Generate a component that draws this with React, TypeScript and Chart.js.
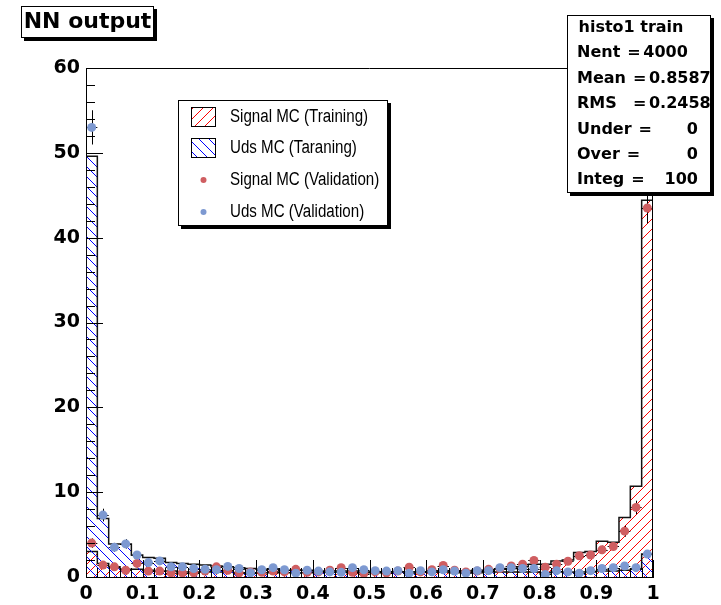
import React, { useEffect, useRef } from 'react';
import { Chart, registerables } from 'chart.js';

Chart.register(...registerables);

// Histogram range: 50 bins over [0, 1]
const BIN_LOW = 0;
const BIN_HIGH = 1;

// Training histograms (percent per bin)
const signalTrain = [
  3.0, 1.6, 1.2, 0.9, 0.9, 0.8, 0.7, 0.7, 0.6, 0.6,
  0.6, 0.6, 0.6, 0.5, 0.5, 0.5, 0.5, 0.5, 0.5, 0.5,
  0.5, 0.6, 0.6, 0.5, 0.5, 0.5, 0.5, 0.6, 0.6, 0.6,
  0.6, 0.7, 0.7, 0.7, 0.8, 0.8, 0.9, 1.0, 1.2, 1.5,
  1.5, 1.9, 2.0, 2.9, 3.0, 4.2, 4.1, 7.0, 10.7, 44.4,
];
const udsTrain = [
  49.6, 6.9, 3.9, 3.9, 2.6, 2.3, 2.2, 1.7, 1.6, 1.5,
  1.4, 1.3, 1.2, 1.1, 1.0, 0.9, 0.9, 0.8, 0.8, 0.8,
  0.7, 0.7, 0.7, 0.7, 0.6, 0.6, 0.6, 0.6, 0.6, 0.6,
  0.6, 0.6, 0.5, 0.5, 0.5, 0.6, 0.6, 0.6, 0.6, 0.6,
  0.5, 0.6, 0.6, 0.6, 0.6, 0.7, 0.7, 0.8, 0.9, 2.7,
];

// Validation samples (percent per bin)
const signalVal = [
  4.0, 1.4, 1.2, 0.8, 1.6, 0.7, 0.7, 0.5, 0.5, 0.5,
  0.7, 1.2, 0.8, 0.5, 0.6, 0.55, 0.7, 0.6, 0.9, 0.55,
  0.6, 0.8, 1.1, 0.55, 0.4, 0.6, 0.5, 0.7, 1.15, 0.6,
  0.85, 1.35, 0.8, 0.6, 0.7, 0.9, 1.0, 1.3, 1.5, 1.95,
  1.15, 1.5, 1.85, 2.5, 2.6, 3.2, 3.6, 5.4, 8.2, 43.5,
];
const udsVal = [
  53.0, 7.3, 3.5, 3.9, 2.6, 1.7, 1.9, 1.2, 1.2, 1.0,
  0.9, 0.85, 1.25, 1.0, 0.5, 0.85, 1.1, 0.85, 0.45, 0.8,
  0.7, 0.6, 0.55, 1.1, 0.85, 0.75, 0.7, 0.75, 0.45, 0.75,
  0.6, 0.85, 0.7, 0.45, 0.75, 0.75, 1.1, 1.1, 1.0, 1.0,
  0.3, 0.75, 0.6, 0.45, 0.75, 1.0, 1.1, 1.3, 1.1, 2.7,
];
// Entries in each validation sample, used for Poisson error bars
const VAL_ENTRIES = 1300;

const Y_MIN = 0;
const Y_MAX = 60;
const Y_STEP = 10;
const X_STEP = 0.1;

const titleText = 'NN output';
const legendLabels = [
  'Signal MC (Training)',
  'Uds MC (Taraning)',
  'Signal MC (Validation)',
  'Uds MC (Validation)',
];
const statsTitle = 'histo1 train';
const statsLabels = ['Nent', 'Mean', 'RMS', 'Under', 'Over', 'Integ'];
const statsValues = ['4000', '0.8587', '0.2458', '0', '0', '100'];

const RED_MARK = 'rgb(207,94,97)';
const BLUE_MARK = 'rgb(125,153,209)';
const BOLD_FAMILY = '"DejaVu Sans", sans-serif';
const SANS_FAMILY = '"Liberation Sans", Arial, sans-serif';

const binWidth = (BIN_HIGH - BIN_LOW) / signalTrain.length;

function histPoints(values: number[]) {
  const pts = [{ x: BIN_LOW, y: 0 }];
  values.forEach((v, i) => pts.push({ x: BIN_LOW + i * binWidth, y: v }));
  pts.push({ x: BIN_HIGH, y: 0 });
  return pts;
}

function markerPoints(values: number[]) {
  return values.map((v, i) => ({ x: BIN_LOW + (i + 0.5) * binWidth, y: v }));
}

function poissonErrors(values: number[]) {
  return values.map((v) => (100 * Math.sqrt((v / 100) * VAL_ENTRIES)) / VAL_ENTRIES);
}

// Crisp one-pixel diagonal hatch tile ('/' when forward, '\' otherwise)
function makeHatch(ctx: CanvasRenderingContext2D, color: string, forward: boolean) {
  const s = 10;
  const c = document.createElement('canvas');
  c.width = s;
  c.height = s;
  const g = c.getContext('2d')!;
  g.fillStyle = color;
  for (let i = 0; i < s; i++) {
    if (forward) g.fillRect((i + 1) % s, s - 1 - i, 1, 1);
    else g.fillRect(i, i, 1, 1);
  }
  return ctx.createPattern(c, 'repeat')!;
}

function drawText(
  ctx: CanvasRenderingContext2D,
  s: string,
  x: number,
  y: number,
  font: string,
  align: CanvasTextAlign = 'left',
  sx = 1,
) {
  ctx.save();
  ctx.font = font;
  ctx.fillStyle = '#000';
  ctx.textBaseline = 'middle';
  ctx.textAlign = align;
  ctx.translate(x, y);
  ctx.scale(sx, 1);
  ctx.fillText(s, 0, 0);
  ctx.restore();
}

function textWidth(ctx: CanvasRenderingContext2D, s: string, font: string) {
  ctx.save();
  ctx.font = font;
  const w = ctx.measureText(s).width;
  ctx.restore();
  return w;
}

function drawPave(ctx: CanvasRenderingContext2D, x: number, y: number, w: number, h: number) {
  ctx.save();
  ctx.fillStyle = '#000';
  ctx.fillRect(x + 3, y + 3, w, h);
  ctx.fillStyle = '#fff';
  ctx.fillRect(x, y, w, h);
  ctx.strokeStyle = '#000';
  ctx.lineWidth = 1;
  ctx.strokeRect(x + 0.5, y + 0.5, w - 1, h - 1);
  ctx.restore();
}

export default function App() {
  const ref = useRef<HTMLCanvasElement | null>(null);

  useEffect(() => {
    const canvas = ref.current!;
    const ctx0 = canvas.getContext('2d')!;
    const redHatch = makeHatch(ctx0, '#ff0000', true);
    const blueHatch = makeHatch(ctx0, '#0000ff', false);
    const signalErr = poissonErrors(signalVal);
    const udsErr = poissonErrors(udsVal);

    // Error bars are drawn just before their marker dataset
    const errorBars = {
      id: 'errorBars',
      beforeDatasetDraw(chart: any, args: any) {
        const errs = args.index === 0 ? udsErr : args.index === 1 ? signalErr : null;
        if (!errs) return;
        const ctx = chart.ctx;
        const xs = chart.scales.x;
        const ys = chart.scales.y;
        const pts = chart.data.datasets[args.index].data;
        ctx.save();
        ctx.strokeStyle = '#000';
        ctx.lineWidth = 1;
        ctx.beginPath();
        pts.forEach((p: any, i: number) => {
          const px = Math.round(xs.getPixelForValue(p.x)) + 0.5;
          const py = Math.round(ys.getPixelForValue(p.y)) + 0.5;
          ctx.moveTo(px, ys.getPixelForValue(p.y + errs[i]));
          ctx.lineTo(px, ys.getPixelForValue(Math.max(0, p.y - errs[i])));
          ctx.moveTo(xs.getPixelForValue(p.x - binWidth / 2), py);
          ctx.lineTo(xs.getPixelForValue(p.x + binWidth / 2), py);
        });
        ctx.stroke();
        ctx.restore();
      },
    };

    // Frame, inward tick marks, title, legend and statistics panes
    const decorations = {
      id: 'decorations',
      afterDatasetsDraw(chart: any) {
        const ctx = chart.ctx;
        const { left, right, top, bottom } = chart.chartArea;
        const xs = chart.scales.x;
        const ys = chart.scales.y;
        ctx.save();
        ctx.strokeStyle = '#000';
        ctx.lineWidth = 1;
        ctx.beginPath();
        ctx.moveTo(left, top + 0.5);
        ctx.lineTo(right, top + 0.5);
        ctx.moveTo(right - 0.5, top);
        ctx.lineTo(right - 0.5, bottom);
        const yMinor = Y_STEP / 5;
        for (let k = 0; k <= (Y_MAX - Y_MIN) / yMinor; k++) {
          const v = Y_MIN + k * yMinor;
          const py = Math.round(ys.getPixelForValue(v)) + 0.5;
          const len = k % 5 === 0 ? 17 : 9;
          ctx.moveTo(left, py);
          ctx.lineTo(left + len, py);
        }
        const xMinor = X_STEP / 5;
        for (let k = 0; k <= Math.round((BIN_HIGH - BIN_LOW) / xMinor); k++) {
          const v = BIN_LOW + k * xMinor;
          const px = Math.round(xs.getPixelForValue(v)) + 0.5;
          const len = k % 5 === 0 ? 17 : 9;
          ctx.moveTo(px, bottom);
          ctx.lineTo(px, bottom - len);
        }
        ctx.stroke();
        ctx.restore();
      },
      afterDraw(chart: any) {
        const ctx = chart.ctx;
        // Title pave
        drawPave(ctx, 21, 6, 133, 32);
        drawText(ctx, titleText, 87.5, 22.5, `bold 22px ${BOLD_FAMILY}`, 'center');

        // Legend
        const lx = 178;
        const ly = 100;
        drawPave(ctx, lx, ly, 210, 126);
        const rowY = [117, 148, 180, 212];
        const legendFont = `18px ${SANS_FAMILY}`;
        [redHatch, blueHatch].forEach((pat, i) => {
          ctx.save();
          ctx.fillStyle = '#fff';
          ctx.fillRect(191, rowY[i] - 10, 25, 20);
          ctx.fillStyle = pat;
          ctx.fillRect(191, rowY[i] - 10, 25, 20);
          ctx.strokeStyle = '#000';
          ctx.lineWidth = 1;
          ctx.strokeRect(191.5, rowY[i] - 9.5, 24, 19);
          ctx.restore();
        });
        [RED_MARK, BLUE_MARK].forEach((c, i) => {
          ctx.save();
          ctx.fillStyle = c;
          ctx.beginPath();
          ctx.arc(203.5, rowY[i + 2], 3, 0, Math.PI * 2);
          ctx.fill();
          ctx.restore();
        });
        legendLabels.forEach((s, i) => drawText(ctx, s, 230, rowY[i], legendFont, 'left', 0.84));

        // Statistics pave
        const sx = 567;
        const sy = 15;
        const sw = 144;
        const sh = 178;
        const rowH = sh / (statsLabels.length + 1);
        ctx.save();
        ctx.fillStyle = '#000';
        ctx.fillRect(sx + 3, sy + 3, sw, sh);
        ctx.fillStyle = '#fff';
        ctx.fillRect(sx, sy, sw, sh);
        ctx.restore();
        const statFont = `bold 16px ${BOLD_FAMILY}`;
        const x0 = sx + 10;
        drawText(ctx, statsTitle, sx + sw / 2 - 8, sy + rowH * 0.5, statFont, 'center');
        const labelEnds = statsLabels.map((lab) => x0 + textWidth(ctx, lab, statFont));
        const alignedEq = Math.max(labelEnds[1], labelEnds[2]) + 7;
        statsLabels.forEach((lab, i) => {
          const cy = sy + rowH * (i + 1.5);
          drawText(ctx, lab, x0, cy, statFont, 'left');
          const eqX = i === 1 || i === 2 ? alignedEq : labelEnds[i] + 7;
          drawText(ctx, '=', eqX, cy, statFont, 'left');
          if (i < 3) {
            drawText(ctx, statsValues[i], eqX + 16, cy, statFont, 'left');
          } else {
            drawText(ctx, statsValues[i], sx + 131, cy, statFont, 'right');
          }
        });
        ctx.save();
        ctx.strokeStyle = '#000';
        ctx.lineWidth = 1;
        ctx.strokeRect(sx + 0.5, sy + 0.5, sw - 1, sh - 1);
        ctx.restore();
      },
    };

    const tickFont = { family: BOLD_FAMILY, size: 19, weight: 'bold' as const };

    const chart = new Chart(ctx0, {
      type: 'line',
      data: {
        datasets: [
          {
            label: legendLabels[3],
            data: markerPoints(udsVal),
            showLine: false,
            pointRadius: 4.5,
            pointBorderWidth: 0,
            pointBackgroundColor: BLUE_MARK,
            order: 0,
          },
          {
            label: legendLabels[2],
            data: markerPoints(signalVal),
            showLine: false,
            pointRadius: 4.5,
            pointBorderWidth: 0,
            pointBackgroundColor: RED_MARK,
            order: 1,
          },
          {
            label: legendLabels[1],
            data: histPoints(udsTrain),
            stepped: 'before',
            fill: 'origin',
            backgroundColor: blueHatch,
            borderColor: '#111',
            borderWidth: 1.5,
            pointRadius: 0,
            order: 2,
          },
          {
            label: legendLabels[0],
            data: histPoints(signalTrain),
            stepped: 'before',
            fill: 'origin',
            backgroundColor: redHatch,
            borderColor: '#111',
            borderWidth: 1.5,
            pointRadius: 0,
            order: 3,
          },
        ],
      },
      options: {
        responsive: false,
        animation: false,
        devicePixelRatio: 1,
        layout: { padding: { top: 68, right: 68, left: 0, bottom: 0 } },
        plugins: {
          legend: { display: false },
          tooltip: { enabled: false },
          title: { display: false },
        },
        scales: {
          x: {
            type: 'linear',
            min: BIN_LOW,
            max: BIN_HIGH,
            offset: false,
            grid: { display: false, drawTicks: false },
            border: { display: true, color: '#000', width: 1 },
            ticks: {
              stepSize: X_STEP,
              padding: 6,
              color: '#000',
              font: tickFont,
              maxRotation: 0,
              autoSkip: false,
              callback: (v: any) => String(Number(Number(v).toFixed(1))),
            },
            afterFit: (s: any) => {
              s.height = 28;
            },
          },
          y: {
            type: 'linear',
            min: Y_MIN,
            max: Y_MAX,
            grid: { display: false, drawTicks: false },
            border: { display: true, color: '#000', width: 1 },
            ticks: {
              stepSize: Y_STEP,
              padding: 6,
              color: '#000',
              font: tickFont,
            },
            afterFit: (s: any) => {
              s.width = 86;
            },
          },
        },
      },
      plugins: [errorBars, decorations],
    });

    return () => chart.destroy();
  }, []);

  return (
    <div style={{ position: 'absolute', left: 0, top: 0, width: 721, height: 605, background: '#fff' }}>
      <canvas ref={ref} width={721} height={605} style={{ display: 'block' }} />
    </div>
  );
}
